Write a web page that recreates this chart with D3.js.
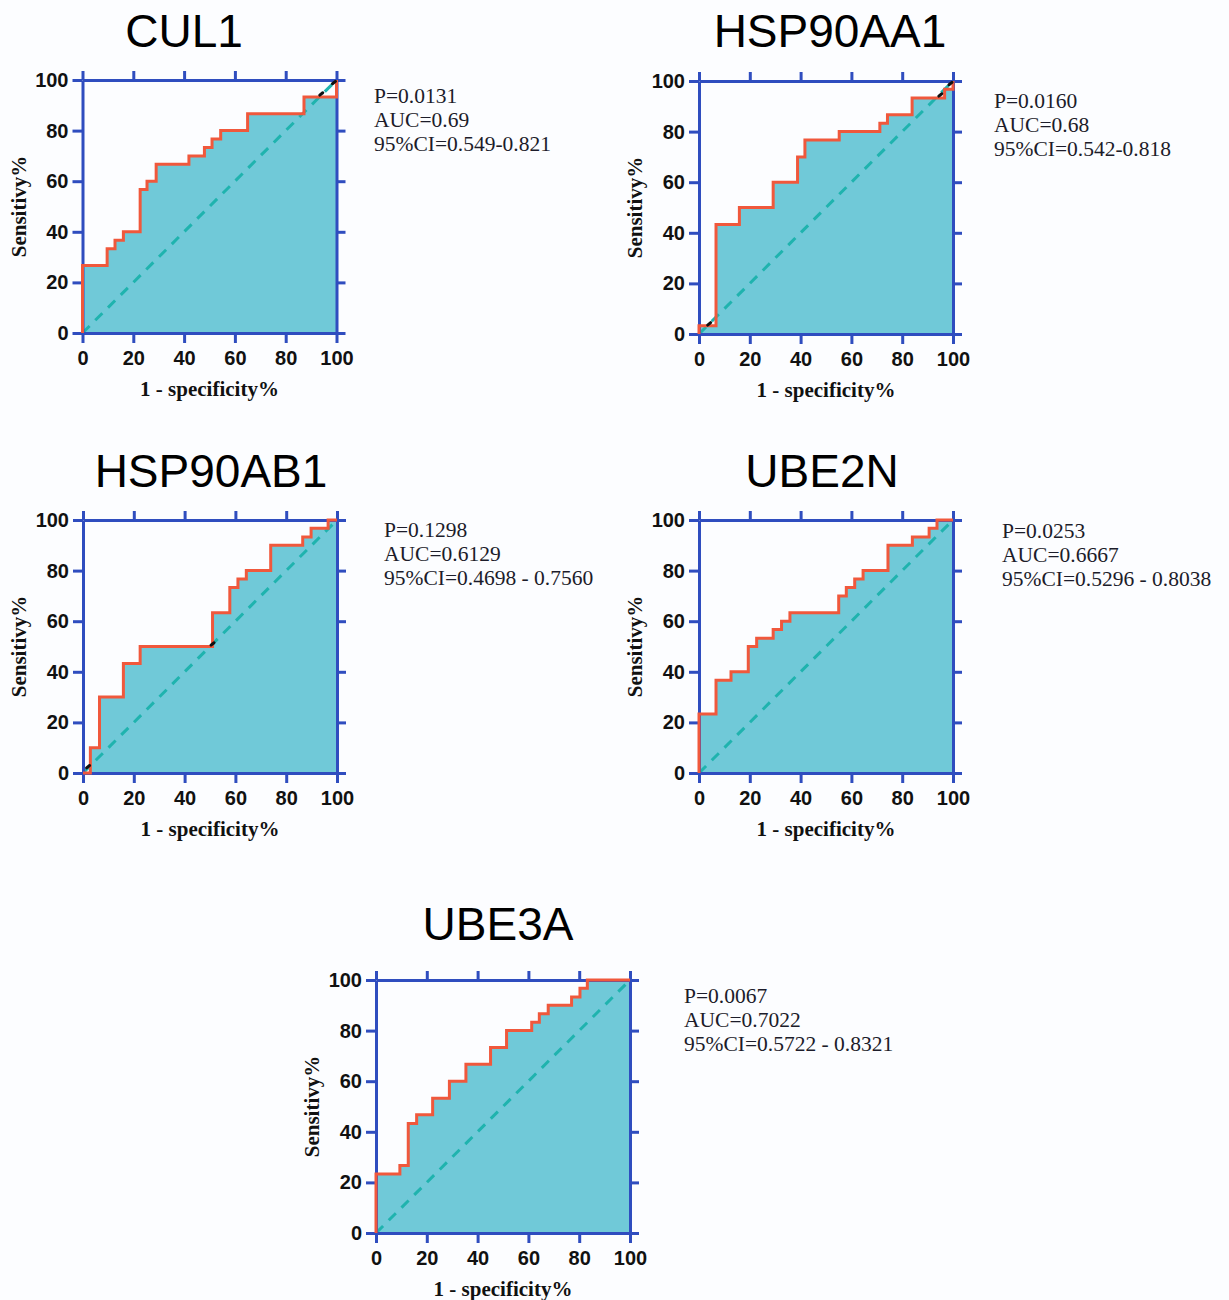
<!DOCTYPE html>
<html>
<head>
<meta charset="utf-8">
<script src="https://cdn.jsdelivr.net/npm/d3@7"></script>
<style>
  body { margin: 0; background: #fcfdff; }
  svg { display: block; }
</style>
</head>
<body>
<svg id="chart" width="1229" height="1300"></svg>
<script>
// ROC step points (1 - specificity %, sensitivity %)
const cul1Fpr = [0, 0, 9.7, 12.8, 16.1, 22.7, 25.4, 29.0, 41.9, 48.0, 51.0, 54.4, 65.0, 87.2, 100, 100];
const cul1Tpr = [0, 26.7, 33.3, 36.7, 40.0, 56.7, 60.0, 66.7, 70.0, 73.3, 76.7, 80.0, 86.7, 93.3, 93.3, 100];

const hsp90aa1Fpr = [0, 0, 6.7, 15.9, 29.2, 38.8, 41.7, 55.2, 71.2, 74.2, 83.9, 96.7, 100, 100];
const hsp90aa1Tpr = [0, 3.3, 43.3, 50.0, 60.0, 70.0, 76.7, 80.0, 83.3, 86.7, 93.3, 96.7, 96.7, 100];

const hsp90ab1Fpr = [0, 2.9, 6.5, 15.9, 22.5, 51.0, 57.8, 61.0, 64.3, 73.9, 86.5, 89.8, 96.5, 100];
const hsp90ab1Tpr = [0, 10.0, 30.0, 43.3, 50.0, 63.3, 73.3, 76.7, 80.0, 90.0, 93.3, 96.7, 100, 100];

const ube2nFpr = [0, 0, 6.7, 12.6, 19.4, 22.7, 29.2, 32.5, 35.8, 55.0, 58.0, 61.3, 64.6, 74.4, 84.0, 90.6, 93.7, 100];
const ube2nTpr = [0, 23.3, 36.7, 40.0, 50.0, 53.3, 56.7, 60.0, 63.3, 70.0, 73.3, 76.7, 80.0, 90.0, 93.3, 96.7, 100, 100];

const ube3aFpr = [0, 0, 9.4, 12.7, 16.0, 22.3, 28.9, 35.4, 45.1, 51.4, 61.3, 64.3, 67.8, 77.0, 80.3, 83.2, 100];
const ube3aTpr = [0, 23.3, 26.7, 43.3, 46.7, 53.3, 60.0, 66.7, 73.3, 80.0, 83.3, 86.7, 90.0, 93.3, 96.7, 100, 100];

// small black marks that sit on the curves
const cul1Marks = [[94, 94.5], [99, 99]];
const hsp90aa1Marks = [[4, 4], [95, 94.5], [99, 99]];
const hsp90ab1Marks = [[2, 2.5], [51, 51]];
const ube2nMarks = [];
const ube3aMarks = [];

const genes = ["CUL1", "HSP90AA1", "HSP90AB1", "UBE2N", "UBE3A"];
const pValues = ["0.0131", "0.0160", "0.1298", "0.0253", "0.0067"];
const aucValues = ["0.69", "0.68", "0.6129", "0.6667", "0.7022"];
const ciValues = ["0.549-0.821", "0.542-0.818", "0.4698 - 0.7560", "0.5296 - 0.8038", "0.5722 - 0.8321"];
const tickValues = [0, 20, 40, 60, 80, 100];

const xLabel = "1 - specificity%";
const yLabel = "Sensitivy%";

const series = [
  { fpr: cul1Fpr, tpr: cul1Tpr, marks: cul1Marks },
  { fpr: hsp90aa1Fpr, tpr: hsp90aa1Tpr, marks: hsp90aa1Marks },
  { fpr: hsp90ab1Fpr, tpr: hsp90ab1Tpr, marks: hsp90ab1Marks },
  { fpr: ube2nFpr, tpr: ube2nTpr, marks: ube2nMarks },
  { fpr: ube3aFpr, tpr: ube3aTpr, marks: ube3aMarks }
];

// where each panel sits on the page
const layout = [
  { x: 82.5, y: 80,  titleX: 184, titleY: 47,  noteX: 374,  noteY: 103 },
  { x: 699,  y: 81,  titleX: 830, titleY: 47,  noteX: 994,  noteY: 108 },
  { x: 83,   y: 520, titleX: 211, titleY: 487, noteX: 384,  noteY: 537 },
  { x: 699,  y: 520, titleX: 822, titleY: 487, noteX: 1002, noteY: 538 },
  { x: 376,  y: 980, titleX: 498, titleY: 940, noteX: 684,  noteY: 1003 }
];

const pw = 254, ph = 253;
const blue = "#2f4dbf", red = "#f0583c", fill = "#70c9d8", dash = "#1fb3ae";

const svg = d3.select("#chart");

genes.forEach((gene, i) => {
  let s = series[i], L = layout[i];
  let pts = s.fpr.map((f, j) => [f, s.tpr[j]]);

  let x = d3.scaleLinear().domain([0, 100]).range([0, pw]);
  let y = d3.scaleLinear().domain([0, 100]).range([ph, 0]);

  let g = svg.append("g").attr("transform", "translate(" + L.x + "," + L.y + ")");

  // title
  svg.append("text")
    .attr("x", L.titleX).attr("y", L.titleY)
    .attr("text-anchor", "middle")
    .style("font-family", "'Liberation Sans', Arial, sans-serif")
    .style("font-size", "46px")
    .style("fill", "#000")
    .text(gene);

  // area under curve
  g.append("path")
    .datum(pts)
    .attr("fill", fill)
    .attr("d", d3.area().curve(d3.curveStepAfter).x(d => x(d[0])).y0(y(0)).y1(d => y(d[1])));

  // reference diagonal
  g.append("line")
    .attr("x1", x(0)).attr("y1", y(0)).attr("x2", x(100)).attr("y2", y(100))
    .attr("stroke", dash).attr("stroke-width", 3).attr("stroke-dasharray", "10,8");

  // axes on all four sides
  let axes = [
    { ax: d3.axisLeft(y).tickValues(tickValues).tickSize(10).tickPadding(4), t: "" },
    { ax: d3.axisBottom(x).tickValues(tickValues).tickSize(10).tickPadding(8), t: "translate(0," + ph + ")" },
    { ax: d3.axisTop(x).tickValues(tickValues).tickSize(9).tickFormat(""), t: "" },
    { ax: d3.axisRight(y).tickValues(tickValues).tickSize(9).tickFormat(""), t: "translate(" + pw + ",0)" }
  ];
  axes.forEach(a => {
    let ag = g.append("g").attr("transform", a.t).call(a.ax.tickSizeOuter(0));
    ag.select(".domain").attr("stroke", blue).attr("stroke-width", 3);
    ag.selectAll(".tick line").attr("stroke", blue).attr("stroke-width", 3);
    ag.selectAll(".tick text")
      .style("font-family", "'Liberation Sans', Arial, sans-serif")
      .style("font-weight", "bold")
      .style("font-size", "20px")
      .style("fill", "#111");
  });

  // ROC curve
  g.append("path")
    .datum(pts)
    .attr("fill", "none")
    .attr("stroke", red)
    .attr("stroke-width", 3)
    .attr("d", d3.line().curve(d3.curveStepAfter).x(d => x(d[0])).y(d => y(d[1])));

  g.selectAll(".mark").data(s.marks).enter().append("line")
    .attr("x1", d => x(d[0]) - 1.5).attr("y1", d => y(d[1]) + 1.2)
    .attr("x2", d => x(d[0]) + 1.5).attr("y2", d => y(d[1]) - 1.2)
    .attr("stroke", "#111").attr("stroke-width", 3).attr("stroke-linecap", "round");

  // axis titles
  g.append("text")
    .attr("x", pw / 2).attr("y", ph + 63)
    .attr("text-anchor", "middle")
    .style("font-family", "'Liberation Serif', 'Times New Roman', serif")
    .style("font-weight", "bold")
    .style("font-size", "21px")
    .style("fill", "#111")
    .text(xLabel);

  g.append("text")
    .attr("transform", "translate(-57," + (ph / 2) + ") rotate(-90)")
    .attr("text-anchor", "middle")
    .style("font-family", "'Liberation Serif', 'Times New Roman', serif")
    .style("font-weight", "bold")
    .style("font-size", "21px")
    .style("fill", "#111")
    .text(yLabel);

  // statistics
  let note = svg.append("text")
    .attr("x", L.noteX).attr("y", L.noteY)
    .style("font-family", "'Liberation Serif', 'Times New Roman', serif")
    .style("font-size", "21.5px")
    .style("fill", "#1c1c2a");
  ["P=" + pValues[i], "AUC=" + aucValues[i], "95%CI=" + ciValues[i]].forEach((t, k) => {
    note.append("tspan").attr("x", L.noteX).attr("dy", k === 0 ? 0 : 24).text(t);
  });
});
</script>
</body>
</html>
